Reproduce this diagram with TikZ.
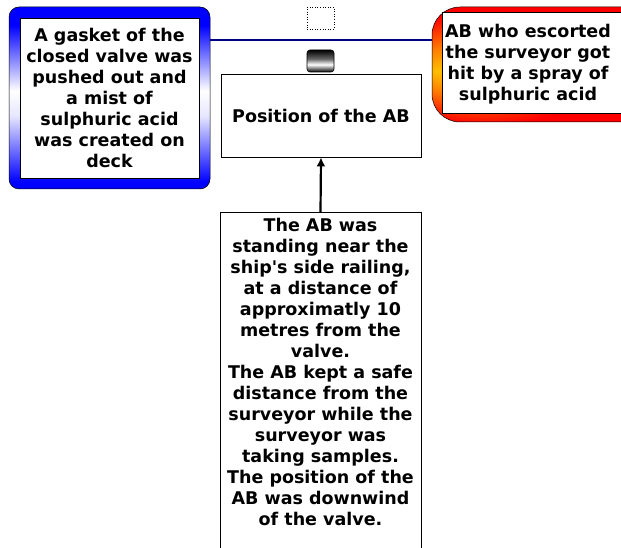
\documentclass[tikz,border=0pt]{standalone}
\usepackage{fontspec}
\setmainfont{DejaVu Sans}
\usetikzlibrary{arrows.meta}
\definecolor{azulmarino}{RGB}{0,0,128}
\pgfdeclareverticalshading{vidrioazul}{100bp}{color(0bp)=(blue); color(27bp)=(blue); color(45bp)=(white!90!blue); color(52bp)=(white); color(70bp)=(blue); color(100bp)=(blue)}
\pgfdeclareradialshading{brasa}{\pgfpoint{-24bp}{-3bp}}{color(0bp)=(yellow!50!orange); color(10bp)=(orange); color(25bp)=(red); color(50bp)=(red)}
\pgfdeclareverticalshading{metal}{100bp}{color(0bp)=(black); color(25bp)=(black); color(42bp)=(white); color(55bp)=(black!60); color(75bp)=(black); color(100bp)=(black)}
\begin{document}
\begin{tikzpicture}[x=1pt, y=-1pt,
    texto/.style={font=\bfseries\fontsize{17.5}{21}\selectfont, align=center, inner sep=0pt},
    caja/.style={draw=black, line width=0.8pt, fill=white, inner sep=0pt},
    marco/.style={draw=black, line width=0.5pt, inner sep=0pt}]

    % Marco de la figura
    \useasboundingbox (0,0) rectangle (621,548);
    \clip (0,0) rectangle (621,548);

    % Cuadro azul
    \node[marco, rounded corners=10pt, shading=vidrioazul, minimum width=201pt, minimum height=182pt] (valvulamarco) at (109.5,98) {};
    \node[caja, texto, minimum width=179pt, minimum height=160pt] (valvula) at (109.5,98) {A gasket of the\\closed valve was\\pushed out and\\a mist of\\sulphuric acid\\was created on\\deck};

    % Cuadro rojo
    \node[marco, rounded corners=28pt, shading=brasa, minimum width=218pt, minimum height=115pt] (accidentemarco) at (541,64.5) {};
    \node[caja, minimum width=198pt, minimum height=101pt] (accidentecaja) at (541,62.5) {};
    \node[texto] (accidente) at (528,64) {AB who escorted\\the surveyor got\\hit by a spray of\\sulphuric acid};

    % Linea entre los cuadros
    \coordinate (altura) at (0,40);
    \draw[azulmarino, line width=2.5pt] (valvulamarco.east |- altura) -- (accidentemarco.west |- altura);

    % Marcas pequenas
    \node[draw=black, dotted, line width=0.6pt, minimum width=27pt, minimum height=22pt] (marca) at (320.5,18) {};
    \node[draw=black, line width=0.6pt, rounded corners=3pt, shading=metal, minimum width=27pt, minimum height=22pt] (tapa) at (320.5,61) {};

    % Posicion
    \node[caja, texto, minimum width=200pt, minimum height=83pt] (posicion) at (321,115.5) {Position of the AB};

    % Detalle
    \node[caja, anchor=north, minimum width=201pt, minimum height=360pt] (detallecaja) at (320.5,212) {};
    \node[texto] (detalle) at (320.5,372) {The AB was\\standing near the\\ship\textquotesingle s side railing,\\at a distance of\\approximatly 10\\metres from the\\valve.\\The AB kept a safe\\distance from the\\surveyor while the\\surveyor was\\taking samples.\\The position of the\\AB was downwind\\of the valve.};

    % Flecha
    \draw[-{Latex[length=9pt, width=9pt]}, line width=2.2pt] (detallecaja.north) -- (posicion.south);

\end{tikzpicture}
\end{document}
